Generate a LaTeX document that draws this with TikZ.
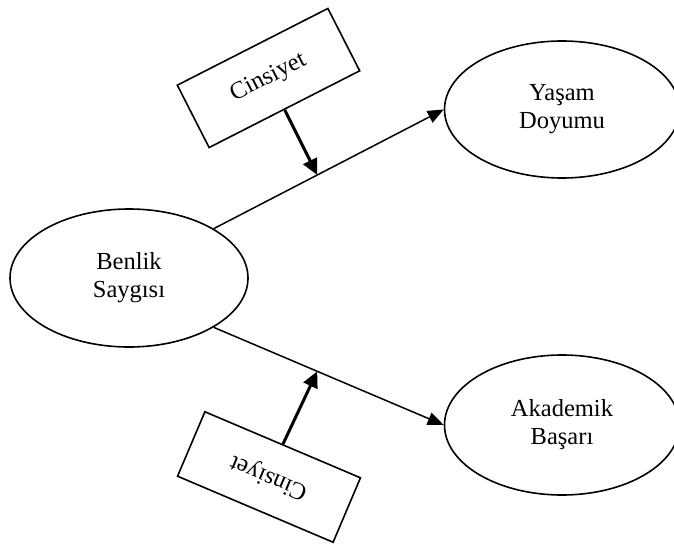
\documentclass[tikz,border=0pt]{standalone}
\usepackage{fontspec}
\setmainfont{Liberation Serif}
\usetikzlibrary{shapes.geometric,arrows.meta}

\begin{document}
\begin{tikzpicture}
    \def\dx{1pt}
    \def\dy{-1pt}
    \useasboundingbox (0,0) rectangle (674*\dx,543*\dy);

    \tikzstyle{var}=[draw=black,ellipse,line width=1.6pt,inner sep=0pt,align=center,font=\fontsize{24.5}{28}\selectfont]
    \tikzstyle{group}=[draw=black,rectangle,line width=1.6pt,minimum width=169pt,minimum height=70pt,font=\fontsize{24.5}{28}\selectfont]

    \node[var,minimum width=238pt,minimum height=138pt]  (benlik) at (129*\dx,278*\dy) {Benlik\\Saygısı};
    \node[var,minimum width=235pt,minimum height=137pt]  (yasam) at (562*\dx,109.5*\dy) {Yaşam\\Doyumu};
    \node[var,minimum width=235pt,minimum height=140pt]  (akademik) at (562*\dx,425*\dy) {Akademik\\Başarı};
    \node[group,rotate=27]  (cinsA) at (268.5*\dx,78*\dy) {Cinsiyet};
    \node[group,rotate=157]  (cinsB) at (269*\dx,477*\dy) {Cinsiyet};


    \tikzstyle{fwd} = [draw=black, line width=1.5pt, -{Triangle[length=16pt,width=13pt]}]
    \tikzstyle{mod} = [draw=black, line width=3pt, -{Triangle[length=16pt,width=15pt]}]

          \draw [fwd] (benlik.north east) -- (yasam.west) coordinate[pos=0.45] (upper);
          \draw [fwd] (benlik.south east) -- (akademik.west) coordinate[pos=0.45] (lower);
          \draw [mod] (cinsA.south) -- (upper);
          \draw [mod] (cinsB.south) -- (lower);
  \end{tikzpicture}
\end{document}
